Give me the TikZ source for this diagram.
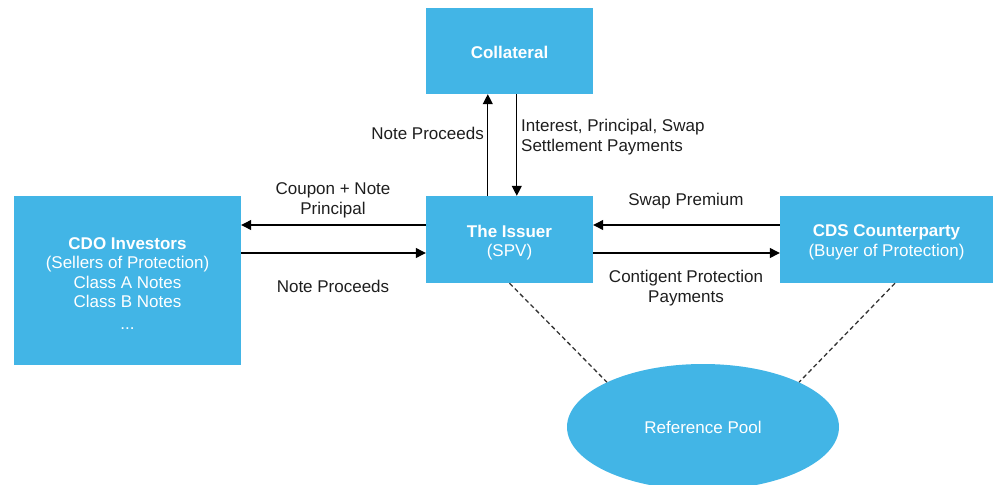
\documentclass[tikz,border=0pt]{standalone}
\usepackage{fontspec}
\setmainfont{Liberation Sans}
\usetikzlibrary{arrows.meta,shapes.geometric}
\definecolor{boxblue}{RGB}{66,181,230}
\definecolor{txt}{RGB}{30,30,30}
\tikzset{
  box/.style={fill=boxblue,draw=none,inner sep=0pt},
  boxtext/.style={text=white,align=center,inner sep=0pt,yshift=-3pt,font=\fontsize{17}{19.5}\selectfont},
  pool/.style={ellipse,fill=boxblue,draw=none,text=white,inner sep=0pt,minimum width=272pt,minimum height=126pt},
  lbl/.style={text=txt,inner sep=0pt,font=\fontsize{17}{20}\selectfont},
  arr/.style={line width=1.2pt,-{Triangle[length=10pt,width=10pt]}},
  dashline/.style={line width=1.3pt,dash pattern=on 4.5pt off 3pt,draw=black!80}
}
\begin{document}
\begin{tikzpicture}[x=1pt,y=-1pt,font=\fontsize{17}{20}\selectfont]
\useasboundingbox (0,0) rectangle (1005,485);
\node[box,minimum width=167pt,minimum height=86pt,label={[boxtext,yshift=2pt]center:\textbf{Collateral}}] (coll) at (509.5,51) {};
\node[box,minimum width=167pt,minimum height=87pt,label={[boxtext]center:\textbf{The Issuer}\\(SPV)}] (iss) at (509.5,239.5) {};
\node[box,minimum width=213pt,minimum height=87pt,label={[boxtext]center:\textbf{CDS Counterparty}\\(Buyer of Protection)}] (cds) at (886.5,239.5) {};
\node[box,minimum width=227pt,minimum height=169pt,label={[boxtext]center:\textbf{CDO Investors}\\(Sellers of Protection)\\Class A Notes\\Class B Notes\\[2pt]...}] (cdo) at (127.5,280.5) {};
\node[pool] (pool) at (703,427) {Reference Pool};
% vertical arrows
\draw[arr] ([xshift=62pt]iss.north west) -- ([xshift=62pt]coll.south west);
\draw[arr] ([xshift=91pt]coll.south west) -- ([xshift=91pt]iss.north west);
% left arrows
\draw[arr] ([yshift=14.5pt]iss.west) -- ([yshift=14.5pt]cdo.east |- iss.west);
\draw[arr] ([yshift=-13.5pt]cdo.east |- iss.west) -- ([yshift=-13.5pt]iss.west);
% right arrows
\draw[arr] ([yshift=14.5pt]cds.west) -- ([yshift=14.5pt]iss.east);
\draw[arr] ([yshift=-13.5pt]iss.east) -- ([yshift=-13.5pt]cds.west);
% dashed
\draw[dashline] (iss.south) -- (pool.155);
\draw[dashline] ([xshift=8.5pt]cds.south) -- (pool.25);
% labels
\node[lbl,anchor=east] (l1) at (484,133) {Note Proceeds};
\node[lbl,anchor=west,align=left] (l2) at (521,137) {Interest, Principal, Swap\\Settlement Payments};
\node[lbl,align=center] (l3) at (333,200) {Coupon + Note\\Principal};
\node[lbl] (l4) at (333,286) {Note Proceeds};
\node[lbl] (l5) at (686,201) {Swap Premium};
\node[lbl,align=center] (l6) at (686,288) {Contigent Protection\\Payments};
\end{tikzpicture}
\end{document}
